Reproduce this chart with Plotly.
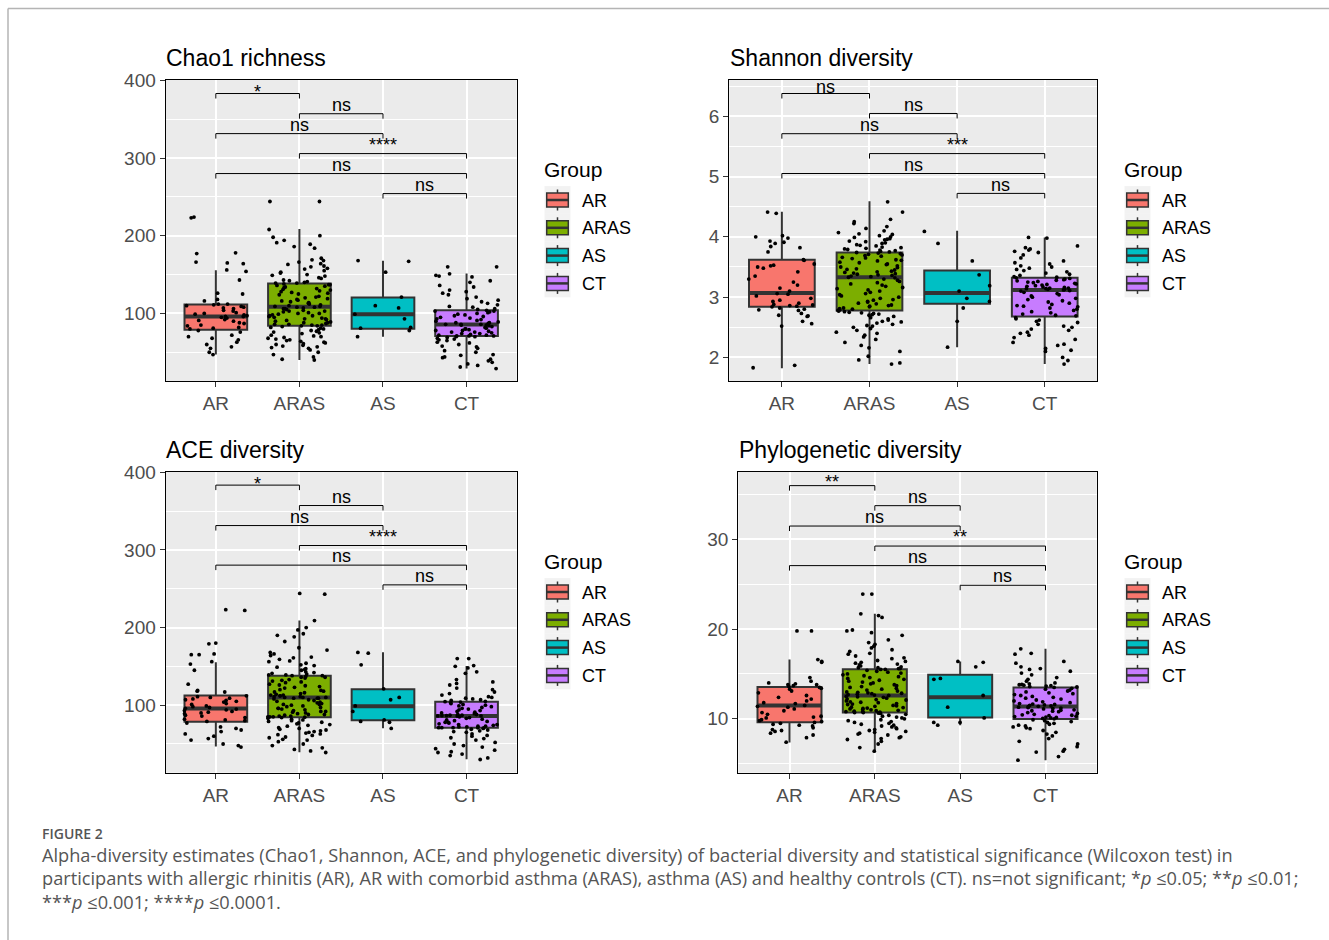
import math
import plotly.graph_objects as go

W, H = 1329, 940
FONT = "Liberation Sans"
groups = ["AR", "ARAS", "AS", "CT"]
group_colors = ["#F8766D", "#7CAE00", "#00BFC4", "#C77CFF"]
pairs = [(0, 1), (1, 2), (0, 2), (1, 3), (0, 3), (2, 3)]

# ---------------- Chao1 richness ----------------
chao1_q1 = [78.9, 84.0, 80.2, 70.8]
chao1_median = [96.0, 108.5, 99.0, 85.8]
chao1_q3 = [111.6, 138.6, 120.6, 104.2]
chao1_low = [47.2, 40.0, 70.0, 29.2]
chao1_high = [155.7, 208.5, 167.7, 151.5]
chao1_bracket_y = [383.0, 357.0, 331.4, 305.7, 280.0, 254.2]
chao1_labels = ["*", "ns", "ns", "****", "ns", "ns"]
chao1_AR = [224, 223, 178, 177, 166, 165, 164, 156, 154, 143, 126, 125, 118, 116, 112, 112, 111, 110,
            109, 108, 107, 106, 104, 103, 101, 100, 99, 98, 97, 96, 96, 95, 94, 92, 91, 90, 88, 87, 85,
            84, 82, 81, 80, 78, 76, 72, 70, 68, 66, 63, 60, 57, 55, 50, 47]
chao1_ARAS = [244, 244, 208, 200, 198, 194, 191, 189, 186, 184, 171, 169, 168, 166, 164, 163, 161, 160,
              158, 157, 155, 153, 152, 150, 149, 148, 146, 145, 143, 142, 141, 140, 139, 139,
              138, 137, 137, 136, 135, 134, 133, 132, 131, 130, 129, 128, 127, 126, 125, 124, 122, 121,
              120, 119, 118, 117, 116, 115, 114, 113, 112, 111, 110, 109, 109, 108, 108,
              107, 106, 106, 105, 104, 103, 103, 102, 101, 100, 100, 99, 98, 97, 97, 96, 95, 94, 93, 93,
              92, 91, 90, 89, 88, 88, 87, 86, 86, 85, 85, 84, 84,
              83, 82, 81, 80, 79, 78, 77, 76, 75, 74, 72, 71, 70, 69, 68, 67, 66, 65, 64, 63, 62, 61,
              60, 59, 58, 57, 56, 55, 53, 50, 47, 44, 41, 40]
chao1_AS = [168, 167, 153, 121, 110, 107, 99, 93, 82, 81, 78, 70]
chao1_CT = [160, 160, 151, 149, 148, 147, 142, 140, 136, 134, 130, 128, 126, 124, 121, 119, 117, 115,
            113, 111, 109, 108, 106, 105,
            104, 103, 103, 102, 101, 100, 99, 98, 97, 96, 95, 94, 93, 92, 91, 90, 89, 88, 88, 87, 86,
            86, 86, 85,
            85, 84, 83, 82, 81, 80, 80, 79, 78, 78, 77, 76, 76, 75, 74, 74, 73, 72, 72, 71, 71, 71,
            70, 70,
            69, 68, 67, 66, 65, 63, 62, 60, 58, 57, 55, 52, 50, 47, 46, 44, 43, 41, 39, 37, 35, 33,
            31, 29]

# ---------------- Shannon diversity ----------------
shannon_q1 = [2.84, 2.78, 2.89, 2.68]
shannon_median = [3.07, 3.33, 3.07, 3.12]
shannon_q3 = [3.62, 3.74, 3.44, 3.32]
shannon_low = [1.82, 1.89, 2.17, 1.89]
shannon_high = [4.415, 4.59, 4.10, 3.99]
shannon_bracket_y = [6.376, 6.045, 5.71, 5.38, 5.05, 4.72]
shannon_labels = ["ns", "ns", "ns", "***", "ns", "ns"]
shannon_AR = [4.41, 4.39, 4.02, 4.0, 3.98, 3.93, 3.91, 3.89, 3.84, 3.82, 3.75, 3.62,
              3.61, 3.55, 3.53, 3.52, 3.5, 3.48, 3.42, 3.35, 3.3, 3.25, 3.2, 3.15, 3.1,
              3.06, 3.05, 3.02, 2.98, 2.95, 2.93, 2.9, 2.88, 2.87, 2.86, 2.85, 2.84,
              2.82, 2.8, 2.79, 2.78, 2.73, 2.7, 2.69, 2.68, 2.6, 2.56, 2.52, 1.87, 1.83]
shannon_ARAS = [4.58, 4.41, 4.29, 4.25, 4.22, 4.17, 4.14, 4.1, 4.07, 4.05, 4.04, 4.02, 4.0, 3.99,
                3.97, 3.96, 3.95, 3.93, 3.92, 3.9, 3.89, 3.87, 3.86, 3.85, 3.83, 3.82, 3.81, 3.8,
                3.79, 3.78, 3.77, 3.76, 3.75, 3.74,
                3.73, 3.72, 3.71, 3.7, 3.69, 3.68, 3.66, 3.65, 3.64, 3.62, 3.61, 3.6, 3.58, 3.57,
                3.55, 3.54, 3.52, 3.5, 3.49, 3.47, 3.46, 3.45, 3.43, 3.42, 3.41, 3.4, 3.39, 3.38,
                3.37, 3.36, 3.35, 3.34, 3.33,
                3.32, 3.3, 3.28, 3.26, 3.24, 3.22, 3.2, 3.18, 3.16, 3.14, 3.12, 3.1, 3.08, 3.06,
                3.04, 3.02, 3.0, 2.98, 2.96, 2.95, 2.93, 2.92, 2.9, 2.89, 2.87, 2.86, 2.85, 2.84,
                2.82, 2.81, 2.8, 2.79, 2.78,
                2.77, 2.76, 2.75, 2.74, 2.73, 2.72, 2.71, 2.7, 2.68, 2.66, 2.64, 2.62, 2.6, 2.59,
                2.57, 2.55, 2.53, 2.52, 2.5, 2.48, 2.45, 2.42, 2.4, 2.37, 2.34, 2.3, 2.25, 2.2,
                2.16, 2.1, 2.02, 1.96, 1.91, 1.89]
shannon_AS = [4.09, 3.89, 3.6, 3.37, 3.19, 3.1, 2.98, 2.93, 2.82, 2.6, 2.17]
shannon_CT = [3.99, 3.98, 3.85, 3.82, 3.8, 3.78, 3.76, 3.74, 3.7, 3.65, 3.6, 3.57, 3.55, 3.52, 3.5,
              3.48, 3.46, 3.44, 3.42, 3.4, 3.38, 3.36, 3.34, 3.33,
              3.32, 3.31, 3.3, 3.29, 3.28, 3.27, 3.26, 3.25, 3.24, 3.23, 3.22, 3.21, 3.2, 3.19,
              3.18, 3.17, 3.16, 3.15, 3.15, 3.14, 3.14, 3.13, 3.13, 3.12,
              3.11, 3.1, 3.08, 3.06, 3.04, 3.02, 3.0, 2.98, 2.96, 2.94, 2.92, 2.9, 2.88, 2.86,
              2.85, 2.84, 2.82, 2.8, 2.78, 2.76, 2.74, 2.72, 2.7, 2.69,
              2.66, 2.64, 2.62, 2.6, 2.58, 2.55, 2.52, 2.5, 2.47, 2.45, 2.42, 2.4, 2.37, 2.33,
              2.3, 2.25, 2.22, 2.2, 2.15, 2.12, 2.1, 2.0, 1.95, 1.89]

# ---------------- ACE diversity ----------------
ace_q1 = [78.5, 84.5, 80.7, 70.8]
ace_median = [95.6, 109.8, 98.7, 86.2]
ace_q3 = [112.4, 138.0, 120.6, 104.3]
ace_low = [46.7, 39.4, 70.4, 30.4]
ace_high = [155.4, 209.0, 168.3, 150.6]
ace_bracket_y = [383.5, 357.2, 331.4, 305.7, 280.4, 255.0]
ace_labels = ["*", "ns", "ns", "****", "ns", "ns"]
ace_AR = [223, 222, 180, 179, 166, 165, 165, 156, 153, 145, 127, 119, 118, 117, 112, 111, 110, 109,
          108, 107, 106, 105, 104, 102, 101, 99, 98, 97, 96, 95, 94, 93, 92, 91, 90, 89, 87, 86, 84,
          82, 81, 80, 79, 77, 72, 70, 68, 66, 63, 60, 57, 55, 50, 48, 46]
ace_ARAS = [244, 243, 209, 200, 197, 192, 190, 188, 182, 174, 171, 168, 166, 164, 162, 161, 159, 157,
            156, 154, 152, 151, 149, 147, 146, 145, 143, 142, 141, 140, 139, 139, 138, 138,
            137, 136, 136, 135, 133, 132, 131, 130, 129, 127, 126, 125, 124, 123, 122, 120, 119, 118,
            117, 116, 115, 114, 113, 112, 112, 111, 110, 110, 109, 109, 110, 111, 113,
            109, 108, 107, 106, 105, 104, 103, 102, 101, 100, 99, 98, 97, 96, 95, 94, 93, 92, 91, 90,
            89, 88, 88, 87, 86, 86, 85, 85, 85, 84.5, 96, 101, 92,
            84, 83, 82, 81, 80, 79, 78, 77, 76, 75, 74, 73, 71, 70, 69, 68, 67, 66, 65, 64, 63, 62,
            61, 59, 58, 56, 55, 53, 50, 48, 45, 43, 41, 39]
ace_AS = [168, 167, 152, 121, 110, 107, 99, 92, 81, 79, 78, 70]
ace_CT = [160, 160, 151, 150, 148, 143, 141, 133, 130, 128, 126, 122, 120, 117, 115, 113, 111, 110,
          109, 108, 107, 106, 105, 104.5,
          104, 103, 102, 101, 100, 99, 98, 97, 96, 95, 94, 93, 92, 91, 90, 89, 88, 88, 87, 87, 86.5,
          86.5, 86.3, 86.2,
          86, 85, 84, 83, 82, 81, 80, 79, 78, 78, 77, 76, 75, 75, 74, 73, 73, 72, 72, 71, 71, 71,
          70.8, 70.8,
          70, 69, 68, 67, 66, 65, 63, 61, 60, 58, 57, 55, 52, 50, 48, 46, 44, 42, 40, 39, 37, 35,
          32, 30]

# ---------------- Phylogenetic diversity ----------------
phylo_q1 = [9.63, 10.7, 10.15, 9.97]
phylo_median = [11.49, 12.6, 12.4, 11.38]
phylo_q3 = [13.56, 15.53, 14.9, 13.5]
phylo_low = [7.37, 6.44, 9.3, 5.4]
phylo_high = [16.6, 21.7, 16.4, 17.8]
phylo_bracket_y = [35.98, 33.75, 31.48, 29.25, 27.07, 24.88]
phylo_labels = ["**", "ns", "ns", "**", "ns", "ns"]
phylo_AR = [19.8, 19.8, 16.6, 16.4, 16.3, 14.6, 14.2, 14.0, 13.9, 13.8, 13.8, 13.7, 13.6,
            13.5, 13.4, 13.3, 13.1, 12.9, 12.6, 12.4, 12.2, 12.0, 11.8, 11.7, 11.5,
            11.4, 11.3, 11.1, 10.9, 10.7, 10.5, 10.3, 10.2, 10.1, 9.9, 9.8, 9.7,
            9.6, 9.5, 9.4, 9.3, 9.2, 9.0, 8.8, 8.7, 8.6, 8.4, 8.2, 7.9, 7.4]
phylo_ARAS = [23.9, 23.9, 21.7, 21.5, 21.3, 19.9, 19.8, 19.6, 19.3, 18.8, 18.5, 18.3, 18.1, 17.9,
              17.7, 17.5, 17.3, 17.2, 17.0, 16.8, 16.7, 16.5, 16.4, 16.3, 16.2, 16.1, 16.0, 15.9,
              15.8, 15.7, 15.7, 15.6, 15.6, 15.5,
              15.5, 15.4, 15.3, 15.2, 15.1, 15.0, 14.9, 14.8, 14.7, 14.6, 14.5, 14.4, 14.3, 14.2,
              14.1, 14.0, 13.9, 13.8, 13.7, 13.6, 13.5, 13.4, 13.3, 13.2, 13.1, 13.0, 12.95, 12.9,
              12.85, 12.8, 12.75, 12.7, 12.65,
              12.6, 12.5, 12.45, 12.4, 12.3, 12.2, 12.15, 12.1, 12.0, 11.9, 11.85, 11.8, 11.7,
              11.65, 11.6, 11.5, 11.45, 11.4, 11.3, 11.25, 11.2, 11.15, 11.1, 11.05, 11.0, 10.95,
              10.9, 10.85, 10.8, 10.8, 10.75, 10.7, 10.7,
              10.65, 10.6, 10.5, 10.4, 10.3, 10.2, 10.1, 10.0, 9.9, 9.8, 9.7, 9.6, 9.5, 9.4, 9.3,
              9.2, 9.1, 9.0, 8.9, 8.8, 8.7, 8.6, 8.5, 8.4, 8.3, 8.2, 8.0, 7.9, 7.8, 7.7, 7.5, 7.2,
              6.8, 6.4]
phylo_AS = [16.4, 16.3, 15.8, 14.5, 14.4, 12.6, 11.3, 10.1, 9.6, 9.6, 9.3]
phylo_CT = [17.8, 17.3, 17.2, 16.4, 16.2, 15.8, 15.6, 15.5, 15.3, 15.1, 14.9, 14.6, 14.4, 14.2, 14.0,
            13.9, 13.85, 13.8, 13.75, 13.7, 13.65, 13.6, 13.55, 13.5,
            13.4, 13.3, 13.2, 13.1, 13.0, 12.9, 12.8, 12.7, 12.6, 12.5, 12.4, 12.3, 12.2, 12.1, 12.0,
            11.9, 11.8, 11.7, 11.65, 11.6, 11.55, 11.5, 11.45, 11.4,
            11.35, 11.3, 11.25, 11.2, 11.15, 11.1, 11.0, 10.95, 10.9, 10.85, 10.8, 10.7, 10.6, 10.5,
            10.45, 10.4, 10.35, 10.3, 10.25, 10.2, 10.15, 10.1, 10.05, 10.0,
            9.9, 9.8, 9.7, 9.6, 9.5, 9.4, 9.3, 9.2, 9.1, 9.0, 8.9, 8.7, 8.5, 8.3, 8.1, 7.8, 7.5, 7.2,
            6.9, 6.6, 6.4, 6.3, 5.8, 5.4]

caption_title = "FIGURE 2"
caption_lines = [
    "Alpha-diversity estimates (Chao1, Shannon, ACE, and phylogenetic diversity) of bacterial diversity "
    "and statistical significance (Wilcoxon test) in",
    "participants with allergic rhinitis (AR), AR with comorbid asthma (ARAS), asthma (AS) and healthy "
    "controls (CT). ns=not significant; *<i>p</i> \u22640.05; **<i>p</i> \u22640.01;",
    "***<i>p</i> \u22640.001; ****<i>p</i> \u22640.0001.",
]

# ---------------- layout / style (pixels) ----------------
panels = [
    dict(title="Chao1 richness", q1=chao1_q1, med=chao1_median, q3=chao1_q3, lo=chao1_low,
         hi=chao1_high, pts=[chao1_AR, chao1_ARAS, chao1_AS, chao1_CT], by=chao1_bracket_y,
         bl=chao1_labels, yr=[13, 400.4], dtick=100, minor=50,
         box=(165.7, 80, 516.7, 381), tx=165.7, tb=66, first=-4.5, leg=(544, 160)),
    dict(title="Shannon diversity", q1=shannon_q1, med=shannon_median, q3=shannon_q3, lo=shannon_low,
         hi=shannon_high, pts=[shannon_AR, shannon_ARAS, shannon_AS, shannon_CT], by=shannon_bracket_y,
         bl=shannon_labels, yr=[1.61, 6.6], dtick=1, minor=0.5,
         box=(729.3, 80, 1097.3, 381), tx=730, tb=66, first=0.6, leg=(1124, 160)),
    dict(title="ACE diversity", q1=ace_q1, med=ace_median, q3=ace_q3, lo=ace_low,
         hi=ace_high, pts=[ace_AR, ace_ARAS, ace_AS, ace_CT], by=ace_bracket_y,
         bl=ace_labels, yr=[13, 400.4], dtick=100, minor=50,
         box=(165.7, 472, 516.7, 772.7), tx=166, tb=458, first=-4.8, leg=(544, 552)),
    dict(title="Phylogenetic diversity", q1=phylo_q1, med=phylo_median, q3=phylo_q3, lo=phylo_low,
         hi=phylo_high, pts=[phylo_AR, phylo_ARAS, phylo_AS, phylo_CT], by=phylo_bracket_y,
         bl=phylo_labels, yr=[4.0, 37.5], dtick=10, minor=5,
         box=(738.3, 472, 1096.7, 772.7), tx=739, tb=458, first=-2.5, leg=(1124, 552)),
]

BOX_W = 0.75
JIT = 0.38
BOX_LINE = "#333333"


def px(x):
    return x / W


def py(y):
    return 1 - y / H


def jitter(n, g):
    out = []
    for k in range(n):
        v = math.sin((k + 1) * 12.9898 + (g + 1) * 78.233) * 43758.5453
        v = v - math.floor(v)
        out.append((v - 0.5) * 2 * JIT)
    return out


fig = go.Figure()
annotations = []
shapes = []


def text_ann(x, baseline, text, size, color="black", family=FONT, weight=None, anchor="left"):
    f = dict(family=family, size=size, color=color)
    if weight:
        f["weight"] = weight
    annotations.append(dict(
        x=px(x), y=py(baseline + 0.212 * size), xref="paper", yref="paper",
        xanchor=anchor, yanchor="bottom", text=text, showarrow=False,
        font=f, borderpad=0, borderwidth=0))


for k, p in enumerate(panels, start=1):
    xr = "x" if k == 1 else f"x{k}"
    yr = "y" if k == 1 else f"y{k}"
    xa = "xaxis" if k == 1 else f"xaxis{k}"
    ya = "yaxis" if k == 1 else f"yaxis{k}"
    x0, y0, x1, y1 = p["box"]

    # boxes
    for g in range(4):
        fig.add_trace(go.Box(
            x=[g], q1=[p["q1"][g]], median=[p["med"][g]], q3=[p["q3"][g]],
            lowerfence=[p["lo"][g]], upperfence=[p["hi"][g]], width=BOX_W,
            fillcolor=group_colors[g], line=dict(color=BOX_LINE, width=2),
            whiskerwidth=0, boxpoints=False, xaxis=xr, yaxis=yr,
            showlegend=False, hoverinfo="skip"))
    # thick median lines
    mx, my = [], []
    for g in range(4):
        mx += [g - BOX_W / 2, g + BOX_W / 2, None]
        my += [p["med"][g], p["med"][g], None]
    fig.add_trace(go.Scatter(x=mx, y=my, mode="lines", line=dict(color=BOX_LINE, width=4),
                             xaxis=xr, yaxis=yr, showlegend=False, hoverinfo="skip"))
    # jittered points
    jx, jy = [], []
    for g in range(4):
        vals = p["pts"][g]
        offs = jitter(len(vals), g + 4 * k)
        jx += [g + o for o in offs]
        jy += list(vals)
    fig.add_trace(go.Scatter(x=jx, y=jy, mode="markers",
                             marker=dict(color="black", size=3.8, line=dict(width=0)),
                             xaxis=xr, yaxis=yr, showlegend=False, hoverinfo="skip"))
    # significance brackets
    span = p["yr"][1] - p["yr"][0]
    drop = 5.0 * span / (y1 - y0)
    bx, byy = [], []
    for (a, b), yv in zip(pairs, p["by"]):
        bx += [a, a, b, b, None]
        byy += [yv - drop, yv, yv, yv - drop, None]
    fig.add_trace(go.Scatter(x=bx, y=byy, mode="lines", line=dict(color="black", width=1),
                             xaxis=xr, yaxis=yr, showlegend=False, hoverinfo="skip"))
    for i, ((a, b), yv, lab) in enumerate(zip(pairs, p["by"], p["bl"])):
        base = p["first"] if i == 0 else 2.6
        annotations.append(dict(
            x=(a + b) / 2, y=yv, xref=xr, yref=yr, xanchor="center", yanchor="bottom",
            yshift=base - 0.212 * 18, text=lab, showarrow=False,
            font=dict(family=FONT, size=18, color="black"), borderpad=0, borderwidth=0))

    fig.layout[xa] = dict(
        domain=[px(x0), px(x1)], range=[-0.6, 3.6], anchor=yr, automargin=False,
        tickmode="array", tickvals=[0, 1, 2, 3], ticktext=groups,
        showgrid=True, gridcolor="white", gridwidth=1.5, zeroline=False,
        showline=True, mirror=True, linecolor="black", linewidth=1.2,
        ticks="outside", ticklen=5, tickwidth=1.2, tickcolor="#333333",
        tickfont=dict(family=FONT, size=19, color="#4D4D4D"), fixedrange=True)
    fig.layout[ya] = dict(
        domain=[py(y1), py(y0)], range=p["yr"], anchor=xr, automargin=False,
        tickmode="linear", tick0=0, dtick=p["dtick"],
        minor=dict(tick0=0, dtick=p["minor"], showgrid=True, gridcolor="white", gridwidth=0.7),
        showgrid=True, gridcolor="white", gridwidth=1.5, zeroline=False,
        showline=True, mirror=True, linecolor="black", linewidth=1.2,
        ticks="outside", ticklen=5, tickwidth=1.2, tickcolor="#333333",
        tickfont=dict(family=FONT, size=19, color="#4D4D4D"), fixedrange=True)

    # panel title
    text_ann(p["tx"], p["tb"], p["title"], 23)

    # legend (drawn manually)
    lx, ly = p["leg"]
    text_ann(lx, ly + 16.7, "Group", 21)
    for g in range(4):
        cy = ly + 40 + 27.8 * g
        shapes.append(dict(type="rect", xref="paper", yref="paper",
                           x0=px(lx + 0.5), x1=px(lx + 26.5), y0=py(cy + 13.9), y1=py(cy - 13.9),
                           fillcolor="#F2F2F2", line=dict(width=0), layer="below"))
        shapes.append(dict(type="line", xref="paper", yref="paper",
                           x0=px(lx + 13.5), x1=px(lx + 13.5), y0=py(cy + 10.5), y1=py(cy - 10.5),
                           line=dict(color=BOX_LINE, width=1.5)))
        shapes.append(dict(type="rect", xref="paper", yref="paper",
                           x0=px(lx + 2.7), x1=px(lx + 24.3), y0=py(cy + 7), y1=py(cy - 7),
                           fillcolor=group_colors[g], line=dict(color=BOX_LINE, width=1.5)))
        shapes.append(dict(type="line", xref="paper", yref="paper",
                           x0=px(lx + 2.7), x1=px(lx + 24.3), y0=py(cy), y1=py(cy),
                           line=dict(color=BOX_LINE, width=2.5)))
        text_ann(lx + 37.7, cy + 6.7, groups[g], 18)

# outer frame lines
shapes.append(dict(type="line", xref="paper", yref="paper", x0=px(8), x1=1, y0=py(8.5), y1=py(8.5),
                   line=dict(color="#B4B4B4", width=1.5)))
shapes.append(dict(type="line", xref="paper", yref="paper", x0=px(8), x1=px(8), y0=py(8.5), y1=0,
                   line=dict(color="#B4B4B4", width=1.5)))

# caption
text_ann(41.5, 840, caption_title, 14, color="#555555", family="Open Sans", weight=600)
for i, line in enumerate(caption_lines):
    text_ann(41.5, 863 + 23.5 * i, line, 18.2, color="#555555", family="Open Sans")

fig.update_layout(
    width=W, height=H, margin=dict(l=0, r=0, t=0, b=0, autoexpand=False),
    paper_bgcolor="white", plot_bgcolor="#EBEBEB",
    showlegend=False, boxmode="overlay",
    annotations=annotations, shapes=shapes,
)

page_fix = (
    "document.documentElement.style.margin='0';"
    "document.body.style.margin='0';document.body.style.overflow='hidden';"
    "var gd=document.querySelector('.plotly-graph-div');"
    "gd.style.position='fixed';gd.style.top='0px';gd.style.left='0px';"
)
fig.write_html("out.html", config={"displayModeBar": False}, post_script=page_fix)
